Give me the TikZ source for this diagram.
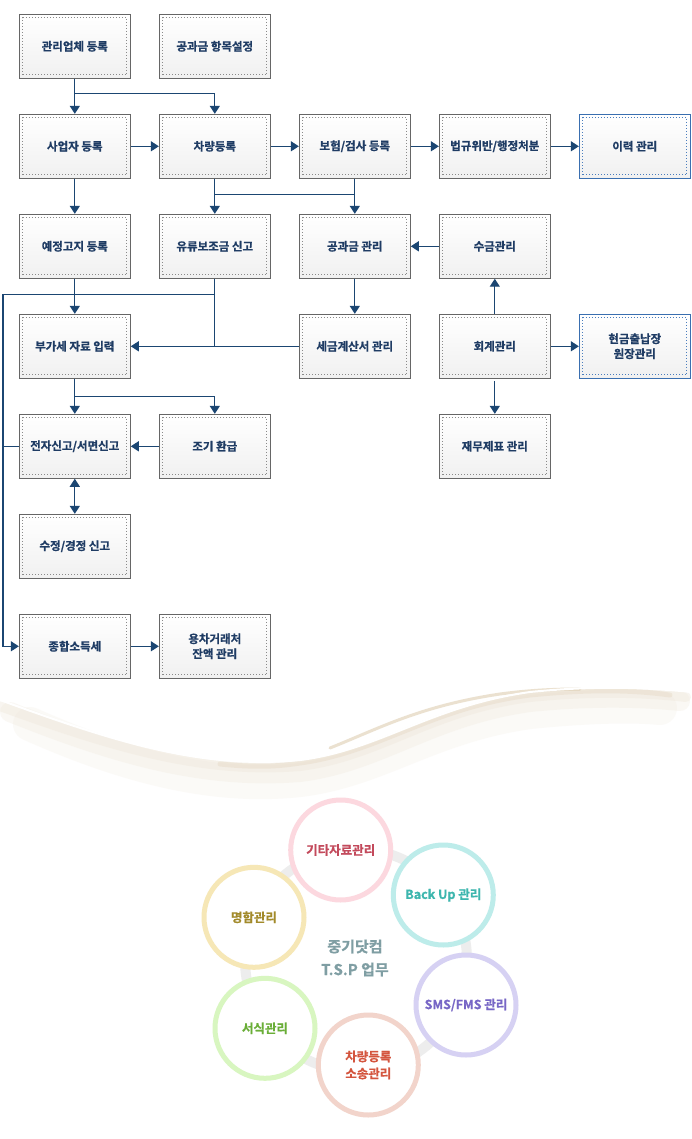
\documentclass[tikz,border=0pt]{standalone}
\usepackage{fontspec}
\setmainfont{Noto Sans CJK KR}[BoldFont={Noto Sans CJK KR Bold}, BoldFeatures={FakeBold=0.8}]
\usetikzlibrary{arrows.meta,calc}
\definecolor{navy}{HTML}{1B4672}
\definecolor{txt}{HTML}{1F3C64}
\definecolor{boxgray}{HTML}{666666}
\definecolor{dotgray}{HTML}{8A8A8A}
\definecolor{boxblue}{HTML}{3A6FB0}
\definecolor{dotblue}{HTML}{4A7DBD}
\definecolor{boxfill}{HTML}{F0F0F0}
\definecolor{ringgray}{HTML}{EDEDED}
\definecolor{cpink}{HTML}{FCD8DF}\definecolor{tpink}{HTML}{C34A5C}
\definecolor{ccyan}{HTML}{BDECEA}\definecolor{tcyan}{HTML}{3DB6AE}
\definecolor{cyel}{HTML}{F6E7B6}\definecolor{tyel}{HTML}{A28A2A}
\definecolor{clav}{HTML}{D6D1F3}\definecolor{tlav}{HTML}{7766C6}
\definecolor{cgrn}{HTML}{D8F6C0}\definecolor{tgrn}{HTML}{6AAE38}
\definecolor{csal}{HTML}{F2D4CB}\definecolor{tsal}{HTML}{D4553E}
\definecolor{tcen}{HTML}{7F9EA3}
\definecolor{wave1}{HTML}{EFE7DA}
\definecolor{wave2}{HTML}{E2D4BC}
\definecolor{wave3}{HTML}{CDB68A}
\tikzset{
  dotcolor/.store in=\dotc, dotcolor=dotgray,
  flowbox/.style={rectangle, minimum width=111pt, minimum height=64pt,
    draw=boxgray, line width=0.9pt, top color=white, bottom color=boxfill,
    text=txt, font=\bfseries\fontsize{11.5}{15}\selectfont, align=center, inner sep=0pt,
    path picture={\draw[\dotc, line width=0.7pt, dash pattern=on 0.7pt off 2.3pt]
      ([shift={(3.5pt,3.5pt)}]path picture bounding box.south west) rectangle
      ([shift={(-3.5pt,-3.5pt)}]path picture bounding box.north east);}},
  bluebox/.style={flowbox, draw=boxblue, dotcolor=dotblue},
  conn/.style={navy, line width=1.3pt},
  arr/.style={conn, -{Triangle[width=10pt,length=8pt]}},
  arrtwo/.style={conn, {Triangle[width=10pt,length=8pt]}-{Triangle[width=10pt,length=8pt]}},
  circ/.style 2 args={circle, minimum size=100pt, draw=#1, line width=5pt, fill=white,
    text=#2, font=\bfseries\fontsize{12.5}{17}\selectfont, align=center, inner sep=0pt},
}
\begin{document}
\begin{tikzpicture}[x=1pt,y=-1pt]
\useasboundingbox (0,0) rectangle (692,1139);
\fill[white] (0,0) rectangle (692,1139);

% ---- flow boxes
\node[flowbox] (a1) at (74.8,46.3) {관리업체 등록};
\node[flowbox] (a2) at (214.8,46.3) {공과금 항목설정};
\node[flowbox] (b1) at (74.8,146.3) {사업자 등록};
\node[flowbox] (b2) at (214.8,146.3) {차량등록};
\node[flowbox] (b3) at (354.8,146.3) {보험/검사 등록};
\node[flowbox] (b4) at (494.8,146.3) {법규위반/행정처분};
\node[bluebox] (b5) at (634.8,146.3) {이력 관리};
\node[flowbox] (c1) at (74.8,246.3) {예정고지 등록};
\node[flowbox] (c2) at (214.8,246.3) {유류보조금 신고};
\node[flowbox] (c3) at (354.8,246.3) {공과금 관리};
\node[flowbox] (c4) at (494.8,246.3) {수금관리};
\node[flowbox] (d1) at (74.8,346.3) {부가세 자료 입력};
\node[flowbox] (d3) at (354.8,346.3) {세금계산서 관리};
\node[flowbox] (d4) at (494.8,346.3) {회계관리};
\node[bluebox] (d5) at (634.8,346.3) {현금출납장\\원장관리};
\node[flowbox] (e1) at (74.8,446.3) {전자신고/서면신고};
\node[flowbox] (e2) at (214.8,446.3) {조기 환급};
\node[flowbox] (e4) at (494.8,446.3) {재무제표 관리};
\node[flowbox] (f1) at (74.8,546.3) {수정/경정 신고};
\node[flowbox] (g1) at (74.8,646.3) {종합소득세};
\node[flowbox] (g2) at (214.8,646.3) {용차거래처\\잔액 관리};

% ---- connectors
\coordinate (j1) at (74.8,93.3);
\coordinate (j2) at (214.8,194.3);
\coordinate (j3) at (74.8,396.7);
\coordinate (bus) at (3,294.3);

\draw[arr] (a1.south) -- (b1.north);
\draw[arr] (j1) -| (b2.north);
\draw[arr] (b1.east) -- (b2.west);
\draw[arr] (b2.east) -- (b3.west);
\draw[arr] (b3.east) -- (b4.west);
\draw[arr] (b4.east) -- (b5.west);
\draw[arr] (b1.south) -- (c1.north);
\draw[arr] (b2.south) -- (c2.north);
\draw[conn] (j2) -- (j2 -| c3.north);
\draw[arr] (b3.south) -- (c3.north);
\draw[arr] (c4.west) -- (c3.east);
\draw[arr] (c3.south) -- (d3.north);
\draw[arr] (d4.north) -- (c4.south);
\draw[arr] (d4.east) -- (d5.west);
\draw[arr] ([yshift=-2pt]d4.south) -- (e4.north);
\draw[arr] (c1.south) -- (d1.north);
\draw[conn] (bus) -- (bus -| c2.south);
\draw[conn] (c2.south) -- (c2.south |- d1.east);
\draw[arr] (d3.west) -- (d1.east);
\draw[arr] (bus) |- (g1.west);
\draw[conn] (e1.west) -- (e1.west -| bus);
\draw[arr] (d1.south) -- (e1.north);
\draw[arr] (j3) -| (e2.north);
\draw[arr] (e2.west) -- (e1.east);
\draw[arrtwo] (e1.south) -- (f1.north);
\draw[arr] (g1.east) -- (g2.west);

% ---- wave decoration
\begin{scope}[line cap=round]
\draw[wave1, line width=34pt, opacity=.2]
  (30,724) .. controls (120,764) and (210,790) .. (300,780) .. controls (380,770) and (430,726) .. (530,712) .. controls (600,705) and (640,706) .. (660,708);
\draw[wave1, line width=20pt, opacity=.28]
  (10,712) .. controls (110,752) and (200,780) .. (300,772) .. controls (380,762) and (430,716) .. (530,702) .. controls (600,695) and (650,698) .. (680,701);
\draw[wave1, line width=10pt, opacity=.4]
  (0,706) .. controls (110,746) and (200,774) .. (300,766) .. controls (380,756) and (430,710) .. (530,697) .. controls (600,690) and (650,693) .. (686,697);
\draw[wave2, line width=5pt, opacity=.35]
  (220,764) .. controls (260,768) and (280,766) .. (300,763) .. controls (380,752) and (430,708) .. (530,695) .. controls (600,688) and (640,691) .. (670,695);
\draw[wave3, line width=3pt, opacity=.4]
  (330,748) .. controls (380,728) and (420,706) .. (500,694) .. controls (530,690) and (555,689) .. (580,689);
\draw[white, line width=2pt]
  (0,700) .. controls (110,740) and (200,770) .. (300,760) .. controls (380,750) and (430,706) .. (530,692) .. controls (600,685) and (650,688) .. (692,692);
\end{scope}

% ---- circles
\draw[ringgray, line width=10pt] (356,960) circle[radius=111pt];
\node[circ={cpink}{tpink}] (k1) at (340.7,850) {기타자료관리};
\node[circ={ccyan}{tcyan}] (k2) at (443.3,895) {Back Up 관리};
\node[circ={cyel}{tyel}] (k3) at (254,917.3) {명함관리};
\node[circ={clav}{tlav}] (k4) at (466,1005) {SMS/FMS 관리};
\node[circ={cgrn}{tgrn}] (k5) at (265,1028.3) {서식관리};
\node[circ={csal}{tsal}] (k6) at (368.3,1065) {차량등록\\소송관리};
\node[text=tcen, font=\bfseries\fontsize{15}{23}\selectfont, align=center] (cen) at (355,958) {중기닷컴\\T.S.P 업무};
\end{tikzpicture}
\end{document}
